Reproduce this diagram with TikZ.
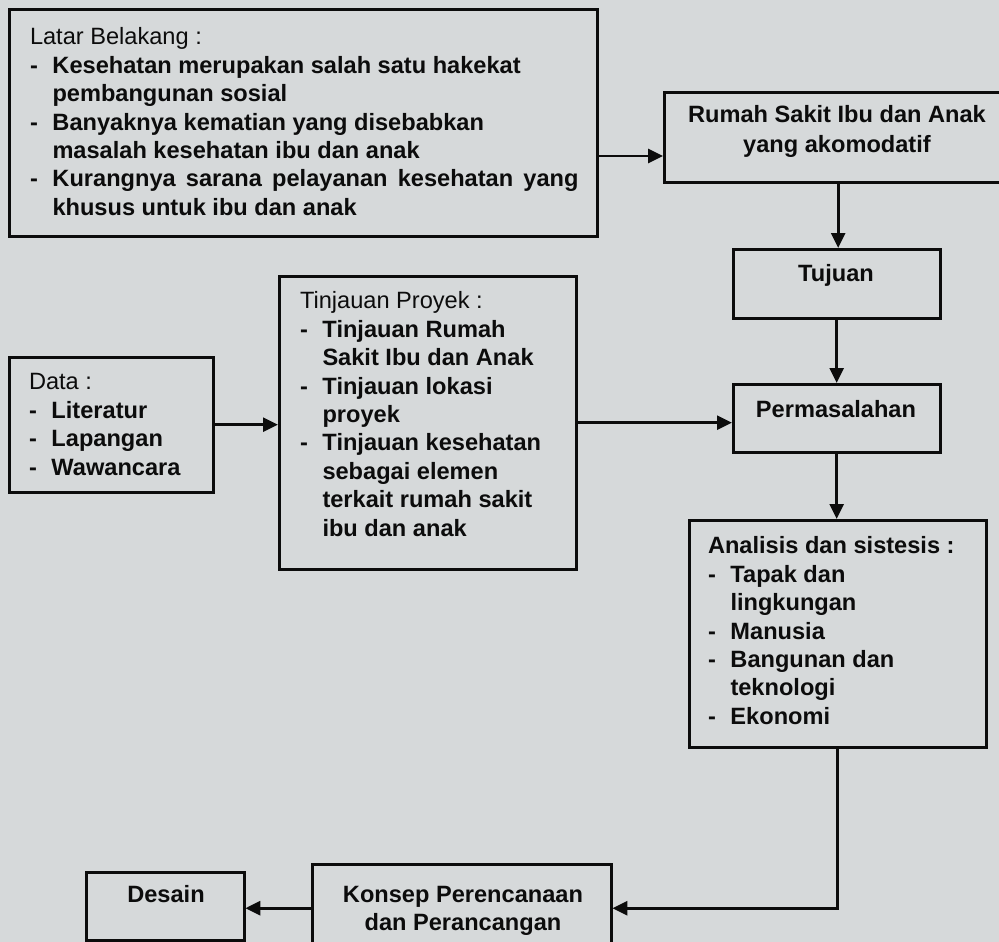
\documentclass[tikz,border=0pt]{standalone}
\usepackage{fontspec}
\setmainfont{Liberation Sans}
\usetikzlibrary{arrows.meta}
\definecolor{bg}{RGB}{214,217,218}
\definecolor{ink}{RGB}{12,12,12}
\newcommand{\itm}[1]{\makebox[22.5pt][l]{-}#1}
\newcommand{\cnt}[1]{\hspace*{22.5pt}#1}
\begin{document}
\begin{tikzpicture}[x=1pt,y=-1pt,
  box/.style={draw=ink, line width=3pt, anchor=north west, inner sep=0pt, outer sep=1.2pt},
  txt/.style={inner sep=0pt, outer sep=0pt, text=ink, font=\fontsize{23.6}{28.4}\selectfont\bfseries},
  arr/.style={draw=ink, line width=2.8pt, -{Triangle[length=15pt,width=14pt]}}]
\fill[bg] (0,0) rectangle (999,942);
\useasboundingbox (0,0) rectangle (999,942);

% boxes
\node[box, minimum width=588pt, minimum height=227pt] (latar) at (8,8) {};
\node[box, minimum width=348pt, minimum height=90pt] (rumah) at (663,91) {};
\node[box, minimum width=207pt, minimum height=69pt] (tujuan) at (732,248) {};
\node[box, minimum width=207pt, minimum height=68pt] (perm) at (732,383) {};
\node[box, minimum width=204pt, minimum height=135pt] (data) at (8,356) {};
\node[box, minimum width=297pt, minimum height=293pt] (tinj) at (278,275) {};
\node[box, minimum width=297pt, minimum height=227pt] (anal) at (688,519) {};
\node[box, minimum width=299pt, minimum height=88pt] (konsep) at (311,863) {};
\node[box, minimum width=158pt, minimum height=68pt] (desain) at (85,871) {};

% texts
\node[txt, anchor=north west] (latarT) at (30,25) {\begin{tabular}{@{}l@{}}
{\mdseries Latar Belakang :}\\
\itm{Kesehatan merupakan salah satu hakekat}\\
\cnt{pembangunan sosial}\\
\itm{Banyaknya kematian yang disebabkan}\\
\cnt{masalah kesehatan ibu dan anak}\\
\itm{\makebox[526pt][s]{Kurangnya sarana pelayanan kesehatan yang}}\\
\cnt{khusus untuk ibu dan anak}
\end{tabular}};

\node[txt, anchor=north, font=\fontsize{23.6}{30}\selectfont\bfseries] (rumahT) at (837,101) {\begin{tabular}{@{}c@{}}
Rumah Sakit Ibu dan Anak\\ yang akomodatif\end{tabular}};

\node[txt, anchor=base] (tujuanT) at (836,281) {Tujuan};
\node[txt, anchor=base] (permT) at (836,417) {Permasalahan};

\node[txt, anchor=north west] (dataT) at (29,370) {\begin{tabular}{@{}l@{}}
{\mdseries Data :}\\
\itm{Literatur}\\
\itm{Lapangan}\\
\itm{Wawancara}
\end{tabular}};

\node[txt, anchor=north west] (tinjT) at (300,289) {\begin{tabular}{@{}l@{}}
{\mdseries Tinjauan Proyek :}\\
\itm{Tinjauan Rumah}\\
\cnt{Sakit Ibu dan Anak}\\
\itm{Tinjauan lokasi}\\
\cnt{proyek}\\
\itm{Tinjauan kesehatan}\\
\cnt{sebagai elemen}\\
\cnt{terkait rumah sakit}\\
\cnt{ibu dan anak}
\end{tabular}};

\node[txt, anchor=north west] (analT) at (708,534) {\begin{tabular}{@{}l@{}}
Analisis dan sistesis :\\
\itm{Tapak dan}\\
\cnt{lingkungan}\\
\itm{Manusia}\\
\itm{Bangunan dan}\\
\cnt{teknologi}\\
\itm{Ekonomi}
\end{tabular}};

\node[txt, anchor=north, font=\fontsize{23.6}{28}\selectfont\bfseries] (konsepT) at (463,882.4) {\begin{tabular}{@{}c@{}}
Konsep Perencanaan\\ dan Perancangan\end{tabular}};

\node[txt, anchor=base] (desainT) at (166,902) {Desain};

% connectors
\coordinate (ya) at (0,156);
\draw[arr] (latar.east |- ya) -- (rumah.west |- ya);
\draw[arr] (rumah.south) -- (rumah.south |- tujuan.north);
\draw[arr] (tujuan.south) -- (tujuan.south |- perm.north);
\draw[arr] (data.east) -- (data.east -| tinj.west);
\draw[arr] (tinj.east) -- (tinj.east -| perm.west);
\draw[arr] (perm.south) -- (perm.south |- anal.north);
\draw[arr] (anal.south) |- (konsep.east);
\draw[arr] (konsep.west) -- (konsep.west -| desain.east);
\end{tikzpicture}
\end{document}
